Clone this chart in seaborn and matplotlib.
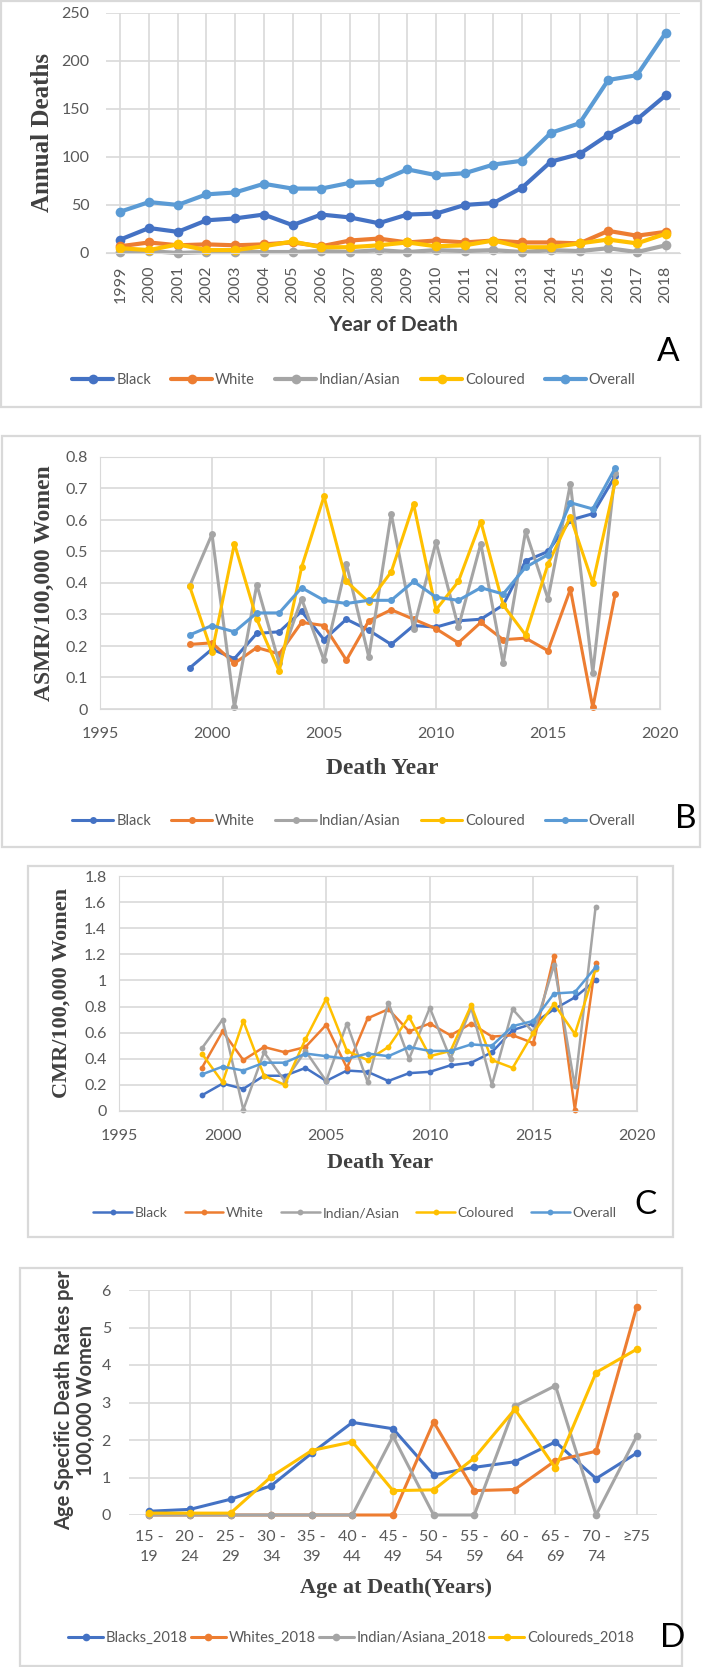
import numpy as np
import matplotlib
matplotlib.use("Agg")
import matplotlib.pyplot as plt
from matplotlib.lines import Line2D
from matplotlib.patches import Rectangle
from matplotlib.ticker import MultipleLocator, FuncFormatter
import seaborn as sns

# ---- data ----
years = list(range(1999, 2019))
groups = ["Black", "White", "Indian/Asian", "Coloured", "Overall"]
colours = ["#4472C4", "#ED7D31", "#A5A5A5", "#FFC000", "#5B9BD5"]

# A: annual deaths
deaths_black = [14, 26, 22, 34, 36, 40, 29, 40, 37, 31, 40, 41, 50, 52, 68, 95, 103, 123, 139, 164]
deaths_white = [7, 11, 8, 9, 8, 9, 11, 7, 13, 15, 11, 13, 11, 13, 11, 11, 10, 23, 18, 22]
deaths_indian = [1, 2, 0, 1, 1, 1, 1, 2, 1, 3, 1, 3, 2, 3, 1, 3, 2, 5, 1, 8]
deaths_coloured = [5, 3, 9, 3, 3, 7, 12, 6, 6, 8, 11, 7, 8, 13, 6, 6, 10, 14, 10, 20]
deaths_overall = [43, 53, 50, 61, 63, 72, 67, 67, 73, 74, 87, 81, 83, 92, 96, 125, 135, 180, 185, 229]

# B: ASMR per 100,000 women
asmr_black = [0.13, 0.19, 0.16, 0.24, 0.245, 0.31, 0.22, 0.285, 0.25, 0.205, 0.265, 0.26, 0.28, 0.285, 0.33, 0.47, 0.50, 0.60, 0.62, 0.74]
asmr_white = [0.205, 0.21, 0.145, 0.195, 0.175, 0.275, 0.265, 0.155, 0.28, 0.315, 0.285, 0.255, 0.21, 0.275, 0.22, 0.225, 0.185, 0.38, 0.005, 0.365]
asmr_indian = [0.39, 0.555, 0.005, 0.395, 0.145, 0.35, 0.155, 0.46, 0.165, 0.62, 0.255, 0.53, 0.26, 0.525, 0.145, 0.565, 0.35, 0.715, 0.115, 0.75]
asmr_coloured = [0.39, 0.18, 0.525, 0.285, 0.12, 0.45, 0.675, 0.405, 0.34, 0.435, 0.65, 0.315, 0.405, 0.595, 0.33, 0.235, 0.46, 0.61, 0.40, 0.72]
asmr_overall = [0.235, 0.265, 0.245, 0.305, 0.305, 0.385, 0.345, 0.335, 0.345, 0.345, 0.405, 0.355, 0.345, 0.385, 0.365, 0.45, 0.49, 0.655, 0.635, 0.765]

# C: CMR per 100,000 women
cmr_black = [0.12, 0.21, 0.17, 0.27, 0.27, 0.33, 0.23, 0.31, 0.30, 0.23, 0.29, 0.30, 0.35, 0.37, 0.45, 0.62, 0.67, 0.78, 0.87, 1.00]
cmr_white = [0.33, 0.61, 0.39, 0.49, 0.45, 0.49, 0.66, 0.33, 0.71, 0.78, 0.61, 0.67, 0.58, 0.67, 0.57, 0.58, 0.52, 1.19, 0.01, 1.13]
cmr_indian = [0.48, 0.70, 0.01, 0.45, 0.23, 0.46, 0.23, 0.67, 0.22, 0.83, 0.40, 0.79, 0.40, 0.79, 0.20, 0.78, 0.60, 1.12, 0.19, 1.56]
cmr_coloured = [0.44, 0.22, 0.69, 0.27, 0.20, 0.55, 0.86, 0.46, 0.39, 0.49, 0.72, 0.42, 0.46, 0.81, 0.39, 0.33, 0.60, 0.82, 0.59, 1.09]
cmr_overall = [0.28, 0.34, 0.31, 0.37, 0.37, 0.44, 0.42, 0.40, 0.44, 0.42, 0.49, 0.46, 0.46, 0.51, 0.50, 0.65, 0.69, 0.90, 0.91, 1.10]

# D: age specific death rates 2018
age_groups = ["15 -\n19", "20 -\n24", "25 -\n29", "30 -\n34", "35 -\n39", "40 -\n44", "45 -\n49",
              "50 -\n54", "55 -\n59", "60 -\n64", "65 -\n69", "70 -\n74", "\u226575\n"]
age_groups_legend = ["Blacks_2018", "Whites_2018", "Indian/Asiana_2018", "Coloureds_2018"]
asdr_black = [0.1, 0.15, 0.42, 0.78, 1.65, 2.47, 2.3, 1.07, 1.27, 1.42, 1.95, 0.97, 1.65]
asdr_white = [0, 0, 0, 0, 0, 0, 0, 2.48, 0.65, 0.68, 1.45, 1.7, 5.55]
asdr_indian = [0, 0, 0, 0, 0, 0, 2.1, 0, 0, 2.9, 3.45, 0, 2.1]
asdr_coloured = [0.05, 0.05, 0.05, 1.02, 1.72, 1.95, 0.65, 0.67, 1.52, 2.82, 1.25, 3.8, 4.42]

# ---- style ----
sns.set_style("white")
plt.rcParams["font.family"] = ["Lato", "DejaVu Sans"]
TICK = "#595959"
TITLE = "#404040"
GRID = "#D9D9D9"

W, H = 703, 1667
fig = plt.figure(figsize=(W / 100, H / 100), dpi=100)


def rect(l, t, r, b):
    return [l / W, 1 - b / H, (r - l) / W, (b - t) / H]


def fx(x):
    return x / W


def fy(y):
    return 1 - y / H


def box(l, t, r, b):
    fig.add_artist(Rectangle((fx(l), fy(b)), (r - l) / W, (b - t) / H, transform=fig.transFigure,
                             fill=False, ec=GRID, lw=1.6))


def draw(ax, x, series, cols, lw, ms):
    for vals, c in zip(series, cols):
        sns.lineplot(x=x, y=vals, ax=ax, color=c, linewidth=lw, marker="o", markersize=ms,
                     markeredgewidth=0, clip_on=False, legend=False)


def legend(labels, cols, cx, cy, lw, ms, fs=11, spacing=1.4, hl=2.8):
    handles = [Line2D([], [], color=c, lw=lw, marker="o", ms=ms, mew=0) for c in cols]
    fig.legend(handles, labels, loc="center", bbox_to_anchor=(fx(cx), fy(cy)), ncol=len(labels),
               frameon=False, fontsize=fs, handlelength=hl, handletextpad=0.2,
               columnspacing=spacing, labelcolor=TICK)


def style(ax, grid_x=False):
    ax.tick_params(length=0, colors=TICK, labelsize=11.5)
    ax.yaxis.grid(True, color=GRID, lw=1.2)
    ax.xaxis.grid(grid_x, color=GRID, lw=1.2)
    ax.set_axisbelow(True)
    for s in ax.spines.values():
        s.set_visible(False)


num_fmt = FuncFormatter(lambda v, p: f"{v:g}")
serif = dict(family="Liberation Serif", weight="bold", color=TITLE)

# ---- panel A ----
box(1, 1, 701, 407)
axA = fig.add_axes(rect(106, 12.7, 680, 253))
xa = np.arange(len(years))
draw(axA, xa, [deaths_black, deaths_white, deaths_indian, deaths_coloured, deaths_overall], colours, 3.0, 7)
style(axA)
axA.spines["bottom"].set_visible(True)
axA.spines["bottom"].set_color(GRID)
axA.set_xlim(-0.5, len(years) - 0.5)
axA.set_ylim(0, 250)
axA.yaxis.set_major_locator(MultipleLocator(50))
axA.set_xticks(xa)
axA.set_xticklabels([str(y) for y in years], rotation=90)
axA.tick_params(axis="x", pad=9)
axA.tick_params(axis="y", pad=12)
axA.set_xlabel("")
axA.set_ylabel("")
fig.text(fx(43), fy(133), "Annual Deaths", rotation=90, ha="center", va="center", fontsize=18, **serif)
fig.text(fx(393), fy(325), "Year of Death", ha="center", va="center", fontsize=15, weight="bold", color=TITLE)
legend(groups, colours, 354, 380, 3.0, 7, fs=10.5)
fig.text(fx(668), fy(352), "A", ha="center", va="center", fontsize=24, color="black")

# ---- panel B ----
box(2, 436, 700, 847)
axB = fig.add_axes(rect(100, 457, 660, 709))
draw(axB, years, [asmr_black, asmr_white, asmr_indian, asmr_coloured, asmr_overall], colours, 2.2, 5)
style(axB, grid_x=True)
for s in axB.spines.values():
    s.set_visible(True)
    s.set_color(GRID)
axB.set_xlim(1995, 2020)
axB.set_ylim(0, 0.8)
axB.xaxis.set_major_locator(MultipleLocator(5))
axB.yaxis.set_major_locator(MultipleLocator(0.1))
axB.yaxis.set_major_formatter(num_fmt)
axB.tick_params(axis="x", pad=13)
axB.tick_params(axis="y", pad=9)
axB.set_xlabel("")
axB.set_ylabel("")
fig.text(fx(44), fy(583), "ASMR/100,000 Women", rotation=90, ha="center", va="center", fontsize=17, **serif)
fig.text(fx(382), fy(768), "Death Year", ha="center", va="center", fontsize=17, **serif)
legend(groups, colours, 354, 821, 2.2, 5, fs=10.5)
fig.text(fx(686), fy(819), "B", ha="center", va="center", fontsize=24, color="black")

# ---- panel C ----
box(28, 866, 673, 1237)
axC = fig.add_axes(rect(119, 876, 637, 1111))
draw(axC, years, [cmr_black, cmr_white, cmr_indian, cmr_coloured, cmr_overall], colours, 1.8, 4.2)
style(axC, grid_x=True)
for s in axC.spines.values():
    s.set_visible(True)
    s.set_color(GRID)
axC.set_xlim(1995, 2020)
axC.set_ylim(0, 1.8)
axC.xaxis.set_major_locator(MultipleLocator(5))
axC.yaxis.set_major_locator(MultipleLocator(0.2))
axC.yaxis.set_major_formatter(num_fmt)
axC.tick_params(axis="x", pad=13)
axC.tick_params(axis="y", pad=9)
axC.set_xlabel("")
axC.set_ylabel("")
fig.text(fx(62), fy(993), "CMR/100,000 Women", rotation=90, ha="center", va="center", fontsize=16, **serif)
fig.text(fx(380), fy(1163), "Death Year", ha="center", va="center", fontsize=16, **serif)
legend(groups, colours, 355, 1213, 1.8, 4.2, fs=10, spacing=1.2)
fig.text(fx(646), fy(1205), "C", ha="center", va="center", fontsize=24, color="black")

# ---- panel D ----
box(20, 1268, 682, 1666)
axD = fig.add_axes(rect(129, 1290, 657, 1515))
xd = np.arange(len(age_groups))
draw(axD, xd, [asdr_black, asdr_white, asdr_indian, asdr_coloured], colours[:4], 2.2, 5.5)
style(axD)
axD.set_xlim(-0.5, len(age_groups) - 0.5)
axD.set_ylim(0, 6)
axD.yaxis.set_major_locator(MultipleLocator(1))
axD.set_xticks(xd)
axD.set_xticklabels(age_groups, linespacing=1.5)
axD.tick_params(axis="x", pad=11)
axD.tick_params(axis="y", pad=13)
axD.set_xlabel("")
axD.set_ylabel("")
fig.text(fx(75), fy(1400), "Age Specific Death Rates per\n100,000 Women", rotation=90, ha="center",
         va="center", fontsize=14.5, weight="bold", color=TITLE, linespacing=1.1)
fig.text(fx(396), fy(1588), "Age at Death(Years)", ha="center", va="center", fontsize=16, **serif)
legend(age_groups_legend, colours[:4], 351, 1638, 2.2, 5.5, fs=10.5, spacing=0.2, hl=2.4)
fig.text(fx(673), fy(1638), "D", ha="center", va="center", fontsize=24, color="black")

fig.savefig("out.png", dpi=100)
